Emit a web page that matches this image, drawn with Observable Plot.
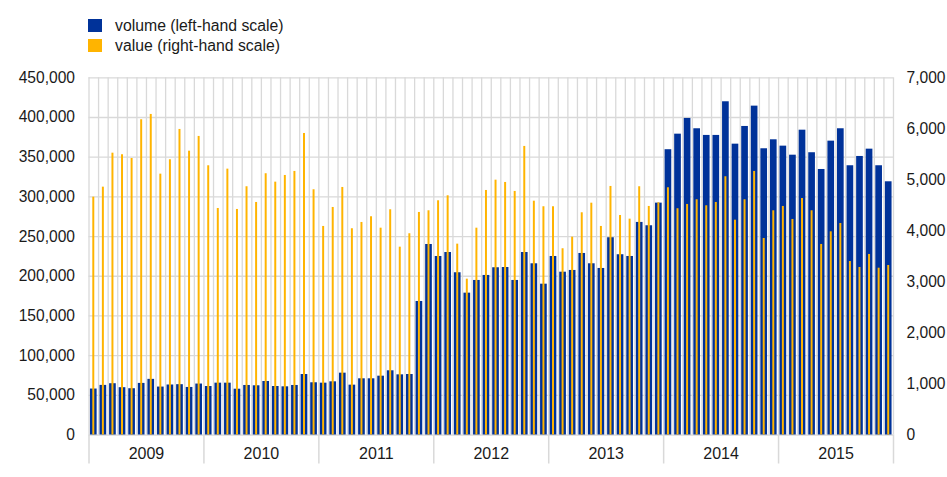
<!DOCTYPE html>
<html>
<head>
<meta charset="utf-8">
<script src="https://cdn.jsdelivr.net/npm/d3@7"></script>
<script src="https://cdn.jsdelivr.net/npm/@observablehq/plot@0.6"></script>
<style>
  html, body { margin: 0; padding: 0; background: #fff; }
  body { width: 947px; height: 477px; overflow: hidden; font-family: "Liberation Sans", Arial, sans-serif; color: #1a1a1a; }
  .legend { height: 62px; box-sizing: border-box; padding-top: 15.5px; }
  .row { height: 20px; display: flex; align-items: center; font-size: 15.8px; }
  .sw { width: 13.5px; height: 13.5px; margin-left: 88px; margin-right: 13.5px; }
  svg { display: block; }
</style>
</head>
<body>
<div class="legend" id="legend"></div>
<div id="chart"></div>
<script>
const years = [2009, 2010, 2011, 2012, 2013, 2014, 2015];
const seriesNames = ["volume (left-hand scale)", "value (right-hand scale)"];
const seriesColors = ["#003299", "#FFB400"];

// monthly volume (left-hand scale)
const volume = [
  57900, 62500, 64600, 59600, 58300, 65000, 70100, 60400, 63000, 63400, 59900, 64200,
  61100, 65300, 65300, 57700, 62400, 62000, 67400, 61100, 60700, 62400, 76200, 65800,
  65300, 67000, 77900, 62800, 70800, 70800, 74100, 80900, 75800, 76200, 168200, 240000,
  224900, 229900, 204400, 178700, 194700, 201000, 210700, 211000, 194700, 229900, 215700, 190000,
  224900, 205100, 207300, 228700, 215700, 209800, 248500, 227100, 224900, 267800, 263600, 292100,
  359400, 379000, 398800, 385800, 377400, 377400, 419800, 366400, 388700, 414300, 360600, 371900,
  363900, 352500, 384000, 355600, 334500, 370200, 385800, 339200, 350900, 360100, 339200, 319000
];
// monthly value (right-hand scale)
const value = [
  4661, 4857, 5523, 5492, 5419, 6178, 6282, 5112, 5394, 5988, 5562, 5851,
  5276, 4439, 5210, 4420, 4865, 4557, 5120, 4955, 5086, 5165, 5909, 4806,
  4087, 4459, 4851, 4042, 4165, 4277, 4053, 4414, 3681, 3944, 4361, 4394,
  4590, 4688, 3740, 3054, 4053, 4792, 4994, 4949, 4773, 5655, 4582, 4473,
  4473, 3650, 3877, 4355, 4543, 4087, 4871, 4302, 4230, 4865, 4479, 4551,
  4845, 4434, 4518, 4610, 4492, 4557, 5061, 4210, 4610, 5165, 3851, 4394,
  4479, 4224, 4635, 4394, 3734, 3982, 4145, 3400, 3283, 3538, 3269, 3322
];
const leftTicks = d3.range(0, 450001, 50000);
const rightTicks = d3.range(0, 7001, 1000);

const leftMax = 450000, rightMax = 7000;
const k = leftMax / rightMax;
const nMonths = volume.length;
const rows = volume.map((v, i) => ({i, volume: v, value: value[i]}));
const monthEdges = d3.range(0, nMonths + 1);
const yearEdges = d3.range(0, years.length + 1).map(j => j * 12);
const yearMids = years.map((y, j) => ({year: y, m: j * 12 + 6}));

// legend
const legend = document.getElementById("legend");
seriesNames.forEach((name, j) => {
  const row = document.createElement("div");
  row.className = "row";
  row.innerHTML = `<div class="sw" style="background:${seriesColors[j]}"></div><span>${name}</span>`;
  legend.appendChild(row);
});

const grid = "#d9d9d9";
const chart = Plot.plot({
  width: 947,
  height: 415,
  marginLeft: 88.5,
  marginRight: 54,
  marginTop: 15.3,
  marginBottom: 42.5,
  style: {fontFamily: "Liberation Sans, Arial, sans-serif", fontSize: "15.6px", color: "#1a1a1a", background: "#fff"},
  x: {domain: [0, nMonths], axis: null},
  y: {domain: [0, leftMax], axis: null},
  marks: [
    Plot.ruleY(leftTicks, {stroke: grid, strokeWidth: 1.3}),
    Plot.ruleX(monthEdges, {stroke: grid, strokeWidth: 1.3}),
    Plot.ruleX(yearEdges, {y1: 0, y2: 0, insetBottom: -29, stroke: grid, strokeWidth: 1.5}),
    Plot.rectY(rows, {x1: "i", x2: d => d.i + 1, y1: 0, y2: "volume", fill: seriesColors[0], insetLeft: 1.45, insetRight: 1.45}),
    Plot.rectY(rows, {x1: "i", x2: d => d.i + 1, y1: 0, y2: d => d.value * k, fill: seriesColors[1], insetLeft: 3.8, insetRight: 3.8}),
    Plot.axisY(leftTicks, {anchor: "left", label: null, tickSize: 0, tickPadding: 14, tickFormat: d3.format(","), fill: "#1a1a1a"}),
    Plot.axisY(rightTicks.map(v => v * k), {anchor: "right", label: null, tickSize: 0, tickPadding: 13, tickFormat: d => d3.format(",")(Math.round(d / k)), fill: "#1a1a1a"}),
    Plot.text(yearMids, {x: "m", y: 0, dy: 19, text: d => String(d.year), fill: "#1a1a1a", fontSize: 16})
  ]
});
document.getElementById("chart").appendChild(chart);
</script>
</body>
</html>
